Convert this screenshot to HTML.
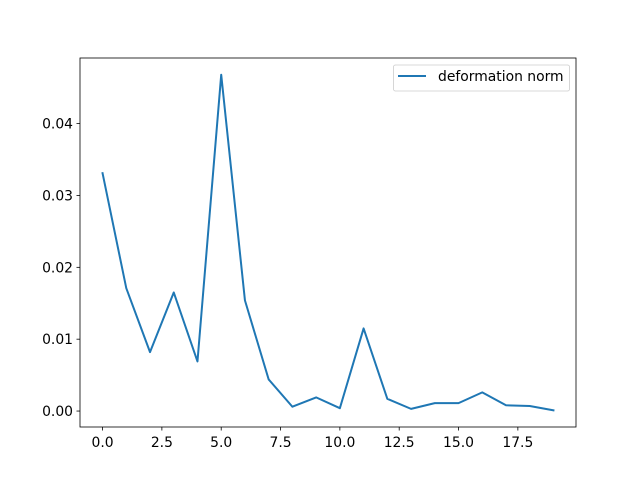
<!DOCTYPE html>
<html><head><meta charset="utf-8"><style>
body{margin:0;background:#fff;}
svg{display:block;font-family:"DejaVu Sans","Liberation Sans",sans-serif;}
</style></head><body>
<svg id="chart" width="640" height="480">
<rect x="0" y="0" width="640" height="480" fill="#fff"/>
<g id="plot"></g>
</svg>
<script>
const xValues=[0,1,2,3,4,5,6,7,8,9,10,11,12,13,14,15,16,17,18,19];
const deformationNorm=[0.0331,0.0171,0.0082,0.0165,0.0069,0.0468,0.0154,0.0044,0.0006,0.0019,0.0004,0.0115,0.0017,0.0003,0.0011,0.0011,0.0026,0.0008,0.0007,0.0001];
const xTicks=[0,2.5,5,7.5,10,12.5,15,17.5];
const xTickLabels=["0.0","2.5","5.0","7.5","10.0","12.5","15.0","17.5"];
const yTicks=[0,0.01,0.02,0.03,0.04];
const yTickLabels=["0.00","0.01","0.02","0.03","0.04"];
const seriesLabel="deformation norm";

const L=80,R=576,T=58,B=427;
const xmin=-0.95,xmax=19.95,ymin=-0.00222,ymax=0.04913;
const xs=v=>L+(v-xmin)/(xmax-xmin)*(R-L);
const ys=v=>B-(v-ymin)/(ymax-ymin)*(B-T);
const NS="http://www.w3.org/2000/svg";
const g=document.getElementById('plot');
function mk(tag,attrs){const e=document.createElementNS(NS,tag);for(const k in attrs)e.setAttribute(k,attrs[k]);g.appendChild(e);return e;}

xTicks.forEach((t,i)=>{
  const x=xs(t);
  const tk=mk('line',{x1:x,x2:x,y1:B,y2:B+3.5,stroke:'#000','stroke-width':0.8});
  
  
  const lb=mk('text',{x:x,y:B+20,'font-size':13.9,'text-anchor':'middle',fill:'#000'});
  lb.textContent=xTickLabels[i];
  
  
});
yTicks.forEach((t,i)=>{
  const y=ys(t);
  const tk=mk('line',{x1:L-3.5,x2:L,y1:y,y2:y,stroke:'#000','stroke-width':0.8});
  
  
  const lb=mk('text',{x:L-7,y:y+5,'font-size':13.9,'text-anchor':'end',fill:'#000'});
  lb.textContent=yTickLabels[i];
  
  
});

const pts=xValues.map((x,i)=>xs(x).toFixed(2)+','+ys(deformationNorm[i]).toFixed(2)).join(' ');
const line=mk('polyline',{points:pts,fill:'none',stroke:'#1f77b4','stroke-width':2,'stroke-linejoin':'round','stroke-linecap':'square'});



const frame=mk('rect',{x:L,y:T,width:R-L,height:B-T,fill:'none',stroke:'#000','stroke-width':0.8});



const lg=mk('rect',{x:393.5,y:65,width:176,height:26,rx:2,fill:'#fff',stroke:'#ccc','stroke-width':0.8});


const ll=mk('line',{x1:398,x2:426,y1:76,y2:76,stroke:'#1f77b4','stroke-width':2});


const lt=mk('text',{x:438,y:81,'font-size':13.9,fill:'#000'});
lt.textContent=seriesLabel;


</script>
</body></html>
